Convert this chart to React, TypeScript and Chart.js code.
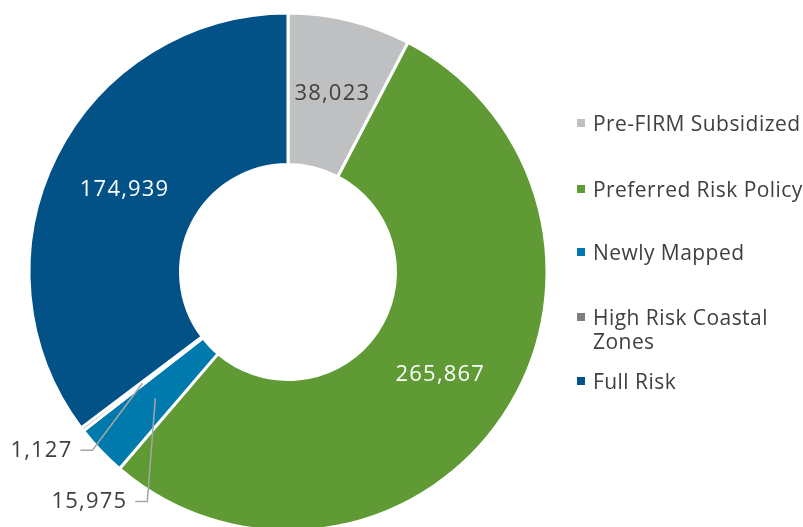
import React, { useEffect, useRef } from "react";
import { Chart, registerables } from "chart.js";

Chart.register(...registerables);

const categories = [
  "Pre-FIRM Subsidized",
  "Preferred Risk Policy",
  "Newly Mapped",
  "High Risk Coastal Zones",
  "Full Risk",
];
const policyCounts = [38023, 265867, 15975, 1127, 174939];
const sliceColors = ["#BFC0C2", "#5F9A34", "#0079AD", "#7F7F7F", "#025187"];
const valueTextColors = ["#404040", "#FFFFFF", "#404040", "#404040", "#FFFFFF"];
// leader lines for the small slices: offset from slice centre to elbow, then horizontal run
const leaderOffsets: Record<number, { dx: number; dy: number; run: number }> = {
  2: { dx: -8, dy: 103, run: 12 },
  3: { dx: -50, dy: 67, run: 12 },
};
const legendTops = [111, 177, 240, 305, 369];

const FONT = "'Open Sans', 'DejaVu Sans', sans-serif";

const valueLabelPlugin = {
  id: "valueLabels",
  afterDatasetsDraw(chart: any) {
    const ctx = chart.ctx;
    const meta = chart.getDatasetMeta(0);
    ctx.save();
    ctx.font = `22px ${FONT}`;
    try {
      (ctx as any).letterSpacing = "1.2px";
    } catch (e) {}
    ctx.textBaseline = "middle";
    meta.data.forEach((arc: any, i: number) => {
      const p = arc.getProps(["x", "y", "startAngle", "endAngle", "innerRadius", "outerRadius"], true);
      const mid = (p.startAngle + p.endAngle) / 2;
      const r = (p.innerRadius + p.outerRadius) / 2;
      const ax = p.x + Math.cos(mid) * r;
      const ay = p.y + Math.sin(mid) * r;
      const text = policyCounts[i].toLocaleString("en-US");
      const lead = leaderOffsets[i];
      if (lead) {
        const ex = ax + lead.dx;
        const ey = ay + lead.dy;
        ctx.strokeStyle = "#A6A6A6";
        ctx.lineWidth = 1.5;
        ctx.beginPath();
        ctx.moveTo(ax, ay);
        ctx.lineTo(ex, ey);
        ctx.lineTo(ex - lead.run, ey);
        ctx.stroke();
        ctx.fillStyle = "#404040";
        ctx.textAlign = "right";
        ctx.fillText(text, ex - lead.run - 8, ey);
      } else {
        ctx.fillStyle = valueTextColors[i];
        ctx.textAlign = "center";
        ctx.fillText(text, ax + 0.6, ay);
      }
    });
    ctx.restore();
  },
};

export default function App() {
  const canvasRef = useRef<HTMLCanvasElement | null>(null);

  useEffect(() => {
    if (!canvasRef.current) return;
    const chart = new Chart(canvasRef.current, {
      type: "doughnut",
      data: {
        labels: categories,
        datasets: [
          {
            data: policyCounts,
            backgroundColor: sliceColors,
            borderColor: "#FFFFFF",
            borderWidth: 3,
          },
        ],
      },
      options: {
        responsive: false,
        maintainAspectRatio: false,
        animation: false,
        devicePixelRatio: 1,
        cutout: "41.5%",
        layout: { padding: { left: 27.5, top: 11.5, right: 254.5, bottom: 12.5 } },
        plugins: {
          legend: { display: false },
          tooltip: { enabled: false },
        },
      },
      plugins: [valueLabelPlugin],
    });
    return () => chart.destroy();
  }, []);

  return (
    <div
      style={{
        position: "fixed",
        left: 0,
        top: 0,
        width: 803,
        height: 527,
        overflow: "hidden",
        background: "#FFFFFF",
      }}
    >
      <canvas
        ref={canvasRef}
        width={803}
        height={545}
        style={{ position: "absolute", left: 0, top: 0, width: 803, height: 545 }}
      />
      {categories.map((name, i) => (
        <div
          key={name}
          style={{
            position: "absolute",
            left: 577,
            top: legendTops[i],
            display: "flex",
            alignItems: "flex-start",
            fontFamily: FONT,
            fontSize: 21,
            letterSpacing: "0.45px",
            lineHeight: "24px",
            color: "#404040",
            whiteSpace: i === 3 ? "normal" : "nowrap",
            width: i === 3 ? 210 : 260,
          }}
        >
          <span
            style={{
              display: "inline-block",
              width: 8,
              height: 8,
              marginTop: 8,
              marginRight: 8,
              background: sliceColors[i],
              flex: "none",
            }}
          />
          <span>{name}</span>
        </div>
      ))}
    </div>
  );
}
